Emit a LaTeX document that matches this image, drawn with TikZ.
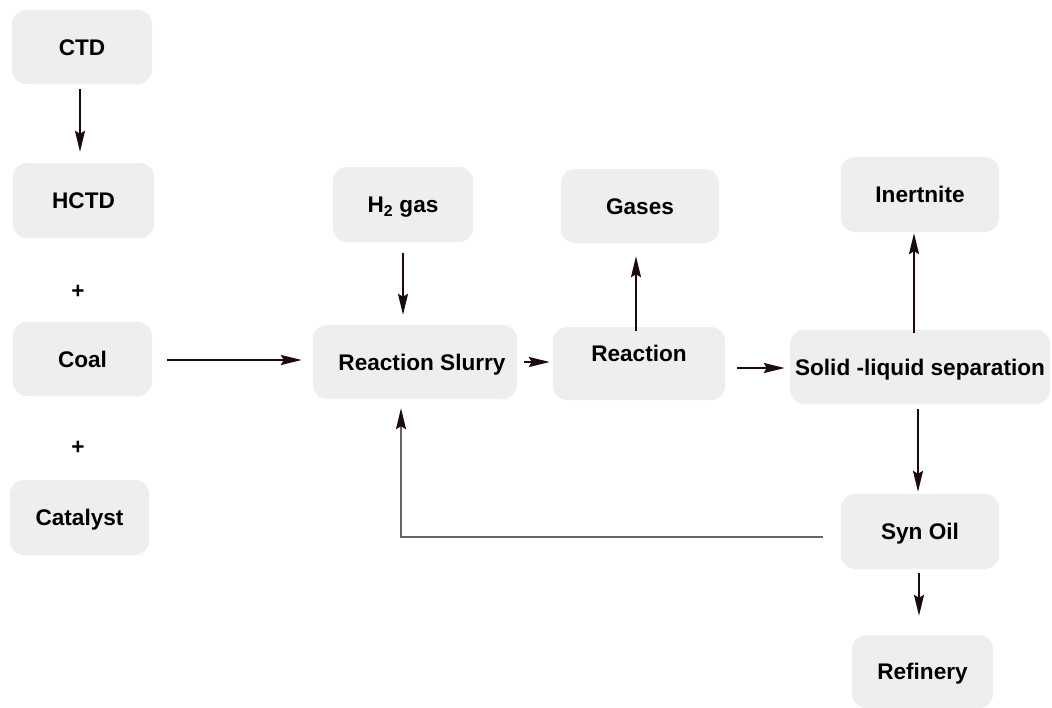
\documentclass[tikz,border=0pt]{standalone}
\usepackage{fontspec}
\setmainfont{Liberation Sans}
\usetikzlibrary{arrows.meta}
\definecolor{boxfill}{HTML}{EEEEEE}
\definecolor{arrowcol}{HTML}{1C0A0C}
\definecolor{loopcol}{HTML}{666666}
\begin{document}
\begin{tikzpicture}[x=1pt,y=-1pt,
  box/.style={fill=boxfill, draw=none, rounded corners=14pt, inner sep=0pt,
    font=\fontsize{22.6}{26}\selectfont\bfseries, text height=16pt, text depth=0pt},
  conn/.style={draw=arrowcol, line width=2pt, -{Stealth[length=21pt,width=10pt,inset=3pt]}},
  backline/.style={draw=loopcol, line width=1.3pt, -{Stealth[length=21pt,width=10pt,inset=3pt,color=arrowcol]}},
  plus/.style={font=\fontsize{22.6}{26}\selectfont\bfseries, inner sep=0pt}
]
\useasboundingbox (0,0) rectangle (1052,707);

\node[box, minimum width=140pt, minimum height=74pt] (ctd) at (82,47) {CTD};
\node[box, minimum width=141pt, minimum height=75pt] (hctd) at (83.5,200.5) {HCTD};
\node[plus] (plus1) at (78,292) {+};
\node[box, minimum width=139pt, minimum height=74pt] (coal) at (82.5,359) {Coal};
\node[plus] (plus2) at (78,448) {+};
\node[box, minimum width=139pt, minimum height=75pt] (cat) at (79.5,517.5) {Catalyst};

\node[box, minimum width=140pt, minimum height=75pt] (h2) at (403,204.5) {H\textsubscript{2} gas};
\node[box, minimum width=204pt, minimum height=74pt] (slurry) at (415,362) {\hspace*{14pt}Reaction Slurry};
\node[box, minimum width=158pt, minimum height=74pt] (gases) at (640,206) {Gases};
\node[box, minimum width=172pt, minimum height=73pt, text depth=20pt] (react) at (639,363.5) {Reaction};
\node[box, minimum width=158pt, minimum height=75pt] (inert) at (920,194.5) {Inertnite};
\node[box, minimum width=260pt, minimum height=74pt] (solid) at (920,367) {Solid -liquid separation};
\node[box, minimum width=158pt, minimum height=75pt] (syn) at (920,531.5) {Syn Oil};
\node[box, minimum width=141pt, minimum height=73pt] (ref) at (922.5,671.5) {Refinery};

% connectors
\draw[conn, shorten <=5pt, shorten >=11pt] ([xshift=-2pt]ctd.south) -- ([xshift=-2pt]ctd.south |- hctd.north);
\draw[conn, shorten <=11pt, shorten >=10pt] (h2.south) -- (h2.south |- slurry.north);
\draw[conn, shorten <=15pt, shorten >=11pt] ([yshift=-1pt]coal.east) -- ([yshift=-1pt]coal.east -| slurry.west);
\draw[conn, shorten <=7pt, shorten >=3pt] (slurry.east) -- (slurry.east -| react.west);
\draw[conn, shorten <=-4pt, shorten >=13pt] ([xshift=-3pt]react.north) -- ([xshift=-3pt]react.north |- gases.south);
\draw[conn, shorten <=12pt, shorten >=5pt] ([yshift=-4.5pt]react.east) -- ([yshift=-4.5pt]react.east -| solid.west);
\draw[conn, shorten <=-3pt, shorten >=1pt] ([xshift=-6pt]solid.north) -- ([xshift=-6pt]solid.north |- inert.south);
\draw[conn, shorten <=5pt, shorten >=2pt] ([xshift=-2pt]solid.south) -- ([xshift=-2pt]solid.south |- syn.north);
\draw[conn, shorten <=4pt, shorten >=19pt] ([xshift=-1pt]syn.south) -- ([xshift=-1pt]syn.south |- ref.north);
\coordinate (corner) at (401,537);
\draw[backline, shorten <=18pt, shorten >=9pt] ([yshift=-5.5pt]syn.west) -- (corner) -- (corner |- slurry.south);
\end{tikzpicture}
\end{document}
